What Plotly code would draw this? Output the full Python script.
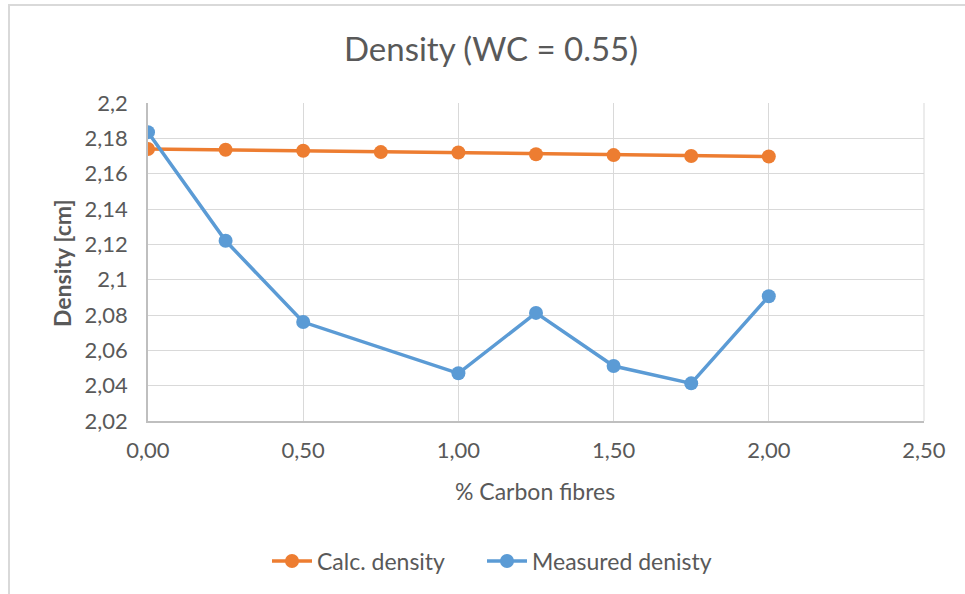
import plotly.graph_objects as go

# Fibre content (%) and densities
fibre_calc = [0.0, 0.25, 0.5, 0.75, 1.0, 1.25, 1.5, 1.75, 2.0]
calc_density = [2.174, 2.1735, 2.173, 2.1722, 2.172, 2.171, 2.1705, 2.170, 2.1697]

fibre_meas = [0.0, 0.25, 0.5, 1.0, 1.25, 1.5, 1.75, 2.0]
measured_density = [2.1835, 2.122, 2.076, 2.047, 2.0812, 2.0511, 2.0413, 2.0906]

# Tick positions and labels (comma decimal separator)
x_ticks = [0.0, 0.5, 1.0, 1.5, 2.0, 2.5]
x_tick_text = ["0,00", "0,50", "1,00", "1,50", "2,00", "2,50"]
y_ticks = [2.02, 2.04, 2.06, 2.08, 2.1, 2.12, 2.14, 2.16, 2.18, 2.2]
y_tick_text = ["2,02", "2,04", "2,06", "2,08", "2,1", "2,12", "2,14", "2,16", "2,18", "2,2"]

ORANGE = "#ED7D31"
BLUE = "#5B9BD5"
TEXT = "#595959"
GRID = "#D9D9D9"
FONT = "Lato, 'Open Sans', sans-serif"

fig = go.Figure()
fig.add_trace(go.Scatter(
    x=fibre_calc, y=calc_density, mode="lines+markers", name="Calc. density",
    line=dict(color=ORANGE, width=3.5), marker=dict(color=ORANGE, size=14),
    legend="legend",
))
fig.add_trace(go.Scatter(
    x=fibre_meas, y=measured_density, mode="lines+markers", name="Measured denisty",
    line=dict(color=BLUE, width=3.5), marker=dict(color=BLUE, size=14),
    legend="legend2",
))

W, H = 965, 594
L, R, T, B = 148, 41, 103, 173
pw, ph = W - L - R, H - T - B


def px(xp):
    return (xp - L) / pw


def py(yp):
    return (H - B - yp) / ph


legend_style = dict(orientation="h", xanchor="left", y=py(561), yanchor="middle",
                    font=dict(size=23, color=TEXT), itemwidth=40,
                    bgcolor="rgba(0,0,0,0)")

fig.update_layout(
    width=W, height=H,
    margin=dict(l=L, r=R, t=T, b=B),
    paper_bgcolor="white", plot_bgcolor="white",
    font=dict(family=FONT, color=TEXT, size=22),
    title=dict(text="Density (WC = 0.55)", x=491 / W, xanchor="center",
               y=1 - 49 / H, yanchor="middle",
               font=dict(size=33, color=TEXT, family=FONT)),
    showlegend=True,
    legend=dict(x=px(267), **legend_style),
    legend2=dict(x=px(482), **legend_style),
    xaxis=dict(range=[0, 2.5], tickvals=x_ticks, ticktext=x_tick_text,
               tickfont=dict(size=22),
               showgrid=True, gridcolor=GRID, gridwidth=1,
               showline=True, linecolor="#BFBFBF", linewidth=1.5, mirror=False,
               zeroline=False, ticks="", ticklabelstandoff=9),
    yaxis=dict(range=[2.02, 2.2], tickvals=y_ticks, ticktext=y_tick_text,
               tickfont=dict(size=22),
               showgrid=True, gridcolor=GRID, gridwidth=1,
               showline=True, linecolor="#BFBFBF", linewidth=1.5,
               zeroline=False, ticks="", ticklabelstandoff=14),
    annotations=[
        dict(text="% Carbon fibres", xref="paper", yref="paper", x=px(535), y=py(491),
             xanchor="center", yanchor="middle", showarrow=False,
             font=dict(size=23, color=TEXT)),
        dict(text="<b>Density [cm]</b>", xref="paper", yref="paper", x=px(62), y=py(263),
             xanchor="center", yanchor="middle", showarrow=False, textangle=-90,
             font=dict(size=23, color=TEXT)),
    ],
    shapes=[
        # chart area border
        dict(type="rect", xref="paper", yref="paper",
             x0=px(9), x1=px(990), y0=py(620), y1=py(5),
             line=dict(color=GRID, width=2), fillcolor="rgba(0,0,0,0)", layer="below"),
        # right edge of plot area
        dict(type="line", xref="paper", yref="paper", x0=1, x1=1, y0=0, y1=1,
             line=dict(color=GRID, width=1), layer="below"),
    ],
)

fig.write_html("out.html")
